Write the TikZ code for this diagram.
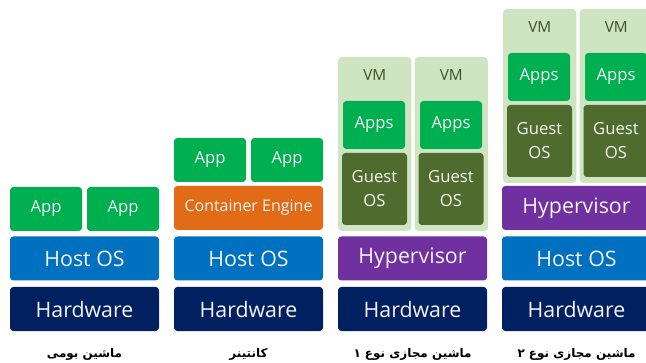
\documentclass[tikz,border=0pt]{standalone}
\usepackage{fontspec}
\setmainfont{Open Sans}
\newfontfamily\persianfont[Script=Arabic]{DejaVu Sans}
\TeXXeTstate=1
\usetikzlibrary{positioning}

\definecolor{appgreen}{HTML}{00B050}
\definecolor{hostblue}{HTML}{0070C0}
\definecolor{hwnavy}{HTML}{002060}
\definecolor{engineorange}{HTML}{E26B17}
\definecolor{hyperpurple}{HTML}{7030A0}
\definecolor{vmback}{HTML}{CFE5C2}
\definecolor{guestgreen}{HTML}{4F6B2D}
\definecolor{vmtext}{HTML}{3D5229}
\definecolor{boxtext}{HTML}{F4F4F4}

\begin{document}
\begin{tikzpicture}[x=0.75pt, y=-0.75pt,
    box/.style={rounded corners=2.5pt, text=boxtext, inner sep=0pt, align=center},
    layer/.style={box, minimum width=111.75pt, minimum height=33pt,
        font=\fontsize{16}{19}\selectfont},
    appbox/.style={box, fill=appgreen, minimum width=54pt, minimum height=33pt,
        font=\fontsize{12.5}{15}\selectfont},
    vmbox/.style={rounded corners=3pt, fill=vmback, minimum width=55.1pt, minimum height=130.5pt},
    vmlabel/.style={text=vmtext, font=\fontsize{11.5}{13}\selectfont},
    appsbox/.style={box, fill=appgreen, minimum width=46.5pt, minimum height=36pt,
        font=\fontsize{12.5}{15}\selectfont},
    guestbox/.style={box, fill=guestgreen, minimum width=48.75pt, minimum height=54pt,
        font=\fontsize{12.5}{18}\selectfont},
    caption/.style={font=\persianfont\bfseries\fontsize{9}{11}\selectfont, text=black}]

    \clip (0,0) rectangle (646,363);
    \fill[white] (0,0) rectangle (646,363);

    % --- Native machine ---
    \node[layer, fill=hwnavy] (hwone) at (84.5,309) {Hardware};
    \node[layer, fill=hostblue, above=4.5pt of hwone] (hostone) {Host OS};
    \node[appbox] (appaone) at (46,209) {App};
    \node[appbox] (appbone) at (123,209) {App};
    \node[caption] (capone) at (84.5,354) {\beginR ماشین بومی\endR};

    % --- Container ---
    \node[layer, fill=hwnavy] (hwtwo) at (248.5,309) {Hardware};
    \node[layer, fill=hostblue, above=4.5pt of hwtwo] (hosttwo) {Host OS};
    \node[layer, fill=engineorange, above=4.5pt of hosttwo,
        font=\fontsize{12}{14}\selectfont] (enginetwo) {Container Engine};
    \node[appbox] (appatwo) at (210,160) {App};
    \node[appbox] (appbtwo) at (287,160) {App};
    \node[caption] (captwo) at (248.5,354) {\beginR کانتینر\endR};

    % --- Type 1 virtual machine ---
    \node[layer, fill=hwnavy] (hwthree) at (412.5,309) {Hardware};
    \node[layer, fill=hyperpurple, above=4.5pt of hwthree] (hypthree) {Hypervisor};
    \node[vmbox] (vmathree) at (374.75,144) {};
    \node[vmbox] (vmbthree) at (451.25,144) {};
    \node[vmlabel] (vmlathree) at (374.75,75) {VM};
    \node[vmlabel] (vmlbthree) at (451.25,75) {VM};
    \node[appsbox] (appsathree) at (374,125) {Apps};
    \node[appsbox] (appsbthree) at (451,125) {Apps};
    \node[guestbox] (guestathree) at (374.5,189) {Guest\\OS};
    \node[guestbox] (guestbthree) at (451,189) {Guest\\OS};
    \node[caption] (capthree) at (412.5,354) {\beginR ماشین مجازی نوع ۱\endR};

    % --- Type 2 virtual machine ---
    \node[layer, fill=hwnavy] (hwfour) at (576.5,309) {Hardware};
    \node[layer, fill=hostblue, above=4.5pt of hwfour] (hostfour) {Host OS};
    \node[layer, fill=hyperpurple, above=4.5pt of hostfour] (hypfour) {Hypervisor};
    \node[vmbox] (vmafour) at (539.75,96) {};
    \node[vmbox] (vmbfour) at (616.25,96) {};
    \node[vmlabel] (vmlafour) at (539.75,27) {VM};
    \node[vmlabel] (vmlbfour) at (616.25,27) {VM};
    \node[appsbox] (appsafour) at (539,77) {Apps};
    \node[appsbox] (appsbfour) at (616,77) {Apps};
    \node[guestbox] (guestafour) at (539.5,141) {Guest\\OS};
    \node[guestbox] (guestbfour) at (616,141) {Guest\\OS};
    \node[caption] (capfour) at (576.5,354) {\beginR ماشین مجازی نوع ۲\endR};

\end{tikzpicture}
\end{document}
